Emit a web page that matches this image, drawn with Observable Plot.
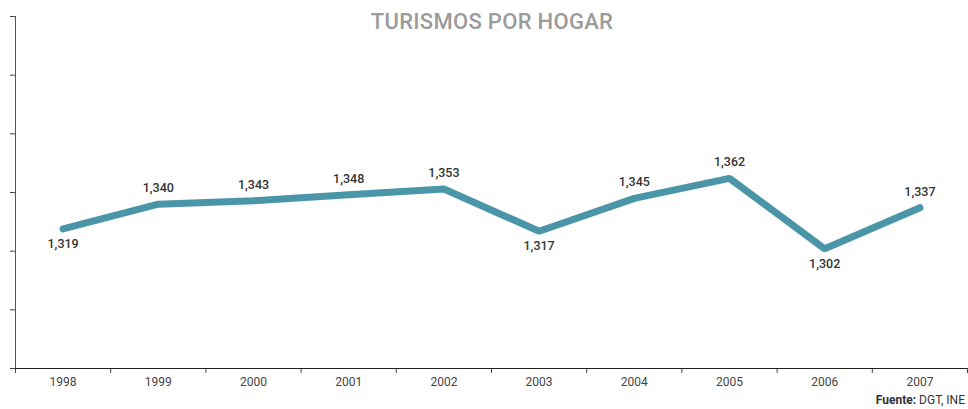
<!DOCTYPE html>
<html>
<head>
<meta charset="utf-8">
<script src="https://cdn.jsdelivr.net/npm/d3@7"></script>
<script src="https://cdn.jsdelivr.net/npm/@observablehq/plot@0.6"></script>
<style>
  body { margin: 0; background: #fff; font-family: Roboto, "DejaVu Sans", sans-serif; }
  #wrap { position: relative; width: 968px; height: 409px; }
  #title { position: absolute; left: 0; width: 984px; top: 9px; text-align: center; font-size: 22px; font-weight: 500; color: #9b9b9b; letter-spacing: 0.3px; }
  #caption { position: absolute; right: 3px; top: 393px; font-size: 12px; color: #333; }
  #caption b { font-weight: 700; }
</style>
</head>
<body>
<div id="wrap">
  <div id="chart"></div>
  <div id="title">TURISMOS POR HOGAR</div>
  <div id="caption"><b>Fuente:</b> DGT, INE</div>
</div>
<script>
const years = [1998, 1999, 2000, 2001, 2002, 2003, 2004, 2005, 2006, 2007];
const values = [1.319, 1.340, 1.343, 1.348, 1.353, 1.317, 1.345, 1.362, 1.302, 1.337];
const labelSide = ["below", "above", "above", "above", "above", "below", "above", "above", "below", "above"];
const yTicks = [1.20, 1.25, 1.30, 1.35, 1.40, 1.45, 1.50];

const data = years.map((y, i) => ({year: y, value: values[i], side: labelSide[i], label: values[i].toFixed(3).replace(".", ",")}));
const bounds = d3.range(years.length + 1).map(i => years[0] - 0.5 + i);

const chart = Plot.plot({
  width: 968,
  height: 409,
  marginTop: 16,
  marginBottom: 41,
  marginLeft: 15,
  marginRight: 1,
  style: {fontFamily: "Roboto, 'DejaVu Sans', sans-serif", background: "#fff"},
  x: {domain: [years[0] - 0.5, years[years.length - 1] + 0.5], axis: null, label: null},
  y: {domain: [1.2, 1.5], axis: null, label: null},
  marks: [
    Plot.axisY({ticks: yTicks, tickFormat: () => "", tickSize: 5, stroke: "#444", label: null}),
    Plot.axisX({ticks: bounds, tickFormat: () => "", tickSize: 5, stroke: "#444", label: null}),
    Plot.axisX({ticks: years, tickFormat: d => String(d), tickSize: 0, tickPadding: 9, fontSize: 12, fill: "#444", label: null}),
    Plot.ruleX([years[0] - 0.5], {stroke: "#555", strokeWidth: 1}),
    Plot.ruleY([1.2], {stroke: "#222", strokeWidth: 1.2}),
    Plot.line(data, {x: "year", y: "value", stroke: "#4a96a8", strokeWidth: 7, strokeLinejoin: "miter", strokeLinecap: "round"}),
    Plot.text(data.filter(d => d.side === "above"), {x: "year", y: "value", text: "label", dy: -16, fontSize: 12.5, fontWeight: 500, fill: "#333"}),
    Plot.text(data.filter(d => d.side === "below"), {x: "year", y: "value", text: "label", dy: 15, fontSize: 12.5, fontWeight: 500, fill: "#333"})
  ]
});
document.getElementById("chart").appendChild(chart);
</script>
</body>
</html>
